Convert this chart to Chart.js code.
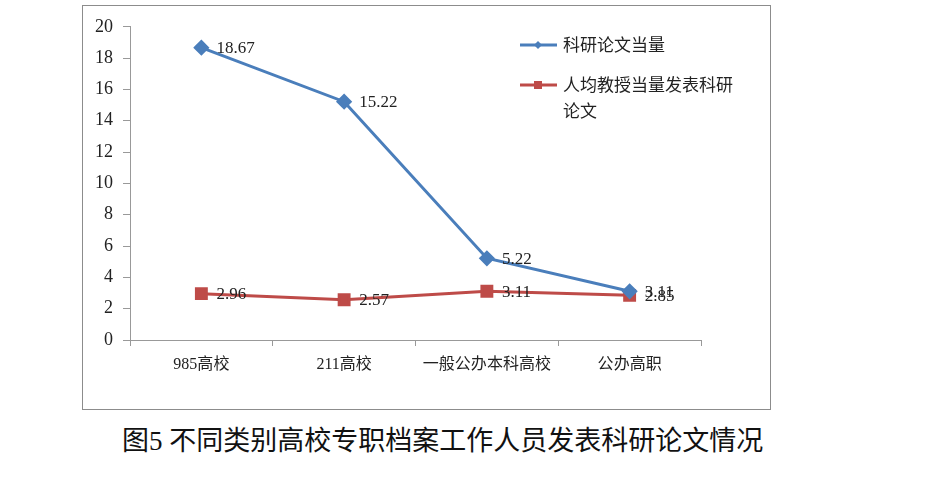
<!DOCTYPE html>
<html>
<head>
<meta charset="utf-8">
<script src="https://cdn.jsdelivr.net/npm/chart.js@4.4.0/dist/chart.umd.min.js"></script>
<style>
  body { margin: 0; background: #fff; width: 942px; height: 492px; position: relative; overflow: hidden; }
  #box { position: absolute; left: 82px; top: 5px; width: 687px; height: 403px; border: 1px solid #8c8c8c; }
  #title { position: absolute; left: 122px; top: 419px; font-family: "Liberation Serif", "Noto Sans CJK SC", serif; font-size: 27px; color: #111; white-space: nowrap; }
</style>
</head>
<body>
<div id="box"><canvas id="paperChart" width="687" height="403"></canvas></div>
<div id="title">图5 不同类别高校专职档案工作人员发表科研论文情况</div>
<script>
// data
var categories = ['985高校', '211高校', '一般公办本科高校', '公办高职'];
var paperCount = [18.67, 15.22, 5.22, 3.11];      // 科研论文当量
var perProfessor = [2.96, 2.57, 3.11, 2.85];      // 人均教授当量发表科研论文
var yTicks = [0, 2, 4, 6, 8, 10, 12, 14, 16, 18, 20];

var blue = '#4A7EBB';
var red = '#BE4B48';

// value labels next to each point
var valueLabels = {
    id: 'valueLabels',
    afterDatasetsDraw: function (chart) {
        var ctx = chart.ctx;
        ctx.save();
        ctx.font = '17px "Liberation Serif", serif';
        ctx.fillStyle = '#222';
        ctx.textBaseline = 'middle';
        chart.data.datasets.forEach(function (ds, i) {
            chart.getDatasetMeta(i).data.forEach(function (pt, j) {
                ctx.fillText(ds.data[j].toFixed(2), pt.x + 15, pt.y + 1);
            });
        });
        ctx.restore();
    }
};

// legend drawn at the upper right, like the original
var sideLegend = {
    id: 'sideLegend',
    afterDraw: function (chart) {
        var ctx = chart.ctx;
        var x = 437, items = [
            { y: 39, color: blue, shape: 'diamond', lines: ['科研论文当量'] },
            { y: 79, color: red, shape: 'square', lines: ['人均教授当量发表科研', '论文'] }
        ];
        ctx.save();
        items.forEach(function (it) {
            ctx.strokeStyle = it.color;
            ctx.fillStyle = it.color;
            ctx.lineWidth = 3;
            ctx.beginPath();
            ctx.moveTo(x, it.y);
            ctx.lineTo(x + 37, it.y);
            ctx.stroke();
            var cx = x + 18;
            ctx.beginPath();
            if (it.shape === 'diamond') {
                ctx.moveTo(cx, it.y - 4); ctx.lineTo(cx + 4, it.y);
                ctx.lineTo(cx, it.y + 4); ctx.lineTo(cx - 4, it.y);
                ctx.closePath();
            } else {
                ctx.rect(cx - 4, it.y - 4, 8, 8);
            }
            ctx.fill();
            ctx.fillStyle = '#222';
            ctx.font = '17px "Noto Sans CJK SC", sans-serif';
            ctx.textBaseline = 'middle';
            it.lines.forEach(function (t, k) {
                ctx.fillText(t, x + 43, it.y + k * 26);
            });
        });
        ctx.restore();
    }
};

var ctx = document.getElementById('paperChart').getContext('2d');
var chart = new Chart(ctx, {
    type: 'line',
    data: {
        labels: categories,
        datasets: [{
            label: '科研论文当量',
            data: paperCount,
            borderColor: blue,
            backgroundColor: blue,
            borderWidth: 3,
            pointStyle: 'rectRot',
            pointRadius: 6,
            pointHoverRadius: 6,
            tension: 0
        }, {
            label: '人均教授当量发表科研论文',
            data: perProfessor,
            borderColor: red,
            backgroundColor: red,
            borderWidth: 3,
            pointStyle: 'rect',
            pointRadius: 7,
            pointHoverRadius: 7,
            tension: 0
        }]
    },
    options: {
        responsive: false,
        animation: false,
        layout: { padding: { left: 0, right: 69, top: 18, bottom: 0 } },
        plugins: {
            legend: { display: false },
            tooltip: { enabled: false }
        },
        scales: {
            x: {
                offset: true,
                grid: { offset: true, drawOnChartArea: false, drawTicks: true, tickLength: 6, color: '#999' },
                border: { color: '#999', width: 1 },
                ticks: {
                    padding: 9,
                    color: '#222',
                    font: { family: '"Liberation Serif", "Noto Sans CJK SC", serif', size: 16 },
                    maxRotation: 0
                },
                afterFit: function (s) { s.height = 69; }
            },
            y: {
                min: 0,
                max: 20,
                afterBuildTicks: function (s) { s.ticks = yTicks.map(function (v) { return { value: v }; }); },
                grid: { drawOnChartArea: false, drawTicks: true, tickLength: 7, color: '#999' },
                border: { color: '#999', width: 1 },
                ticks: {
                    padding: 10,
                    color: '#222',
                    font: { family: '"Liberation Serif", serif', size: 18 }
                },
                afterFit: function (s) { s.width = 47; }
            }
        }
    },
    plugins: [valueLabels, sideLegend]
});
</script>
</body>
</html>
